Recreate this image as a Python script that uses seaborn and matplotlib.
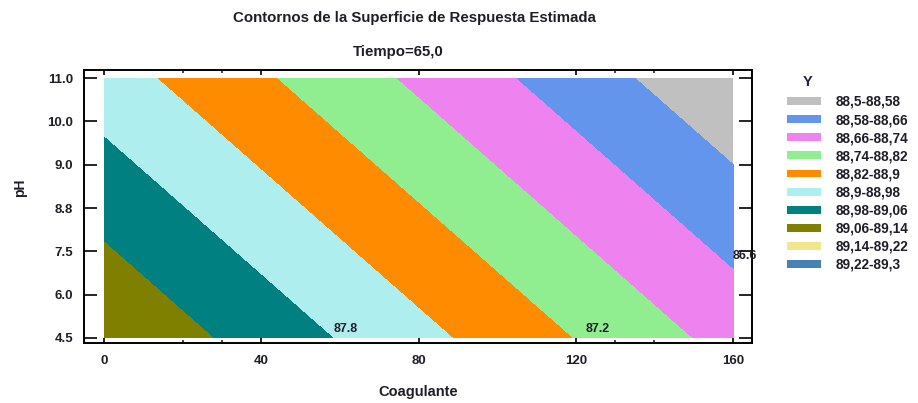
import matplotlib
matplotlib.use("Agg")
import matplotlib.pyplot as plt
from matplotlib.patches import Patch
import seaborn as sns

# ---- data ----
coagulante = [0, 160]            # x extent of the surface
ph = [4.5, 11.0]                 # y extent of the surface
# estimated response Y at the corners (rows: pH, cols: Coagulante) - a plane
y_surface = [[89.133, 88.712],
             [88.935, 88.514]]
levels = [88.5, 88.58, 88.66, 88.74, 88.82, 88.9, 88.98, 89.06, 89.14, 89.22, 89.3]
level_labels = ["88,5-88,58", "88,58-88,66", "88,66-88,74", "88,74-88,82", "88,82-88,9",
                "88,9-88,98", "88,98-89,06", "89,06-89,14", "89,14-89,22", "89,22-89,3"]
level_colors = ["#c0c0c0", "#6495ed", "#ee82ee", "#90ee90", "#ff8c00",
                "#afeeee", "#008080", "#808000", "#f0e68c", "#4682b4"]
x_ticks = [0, 40, 80, 120, 160]
x_minor = [20, 30, 130, 140]
y_ticks = [4.5, 5.583, 6.667, 7.75, 8.833, 9.917, 11.0]
y_tick_labels = ["4.5", "6.0", "7.5", "8.8", "9.0", "10.0", "11.0"]
contour_text = ["87.8", "87.2", "86.6"]
contour_text_x = [61.5, 125.5, 163.0]
contour_text_y = [4.72, 4.72, 6.55]

sns.set_style("white")
plt.rcParams["font.family"] = ["Liberation Sans", "DejaVu Sans"]
TXT = "#1e1e28"

W, H = 918, 403
fig = plt.figure(figsize=(W / 100, H / 100), dpi=100)
ax = fig.add_axes([84 / W, 1 - 343 / H, (752 - 84) / W, (343 - 70) / H])

palette = sns.color_palette(level_colors)
ax.contourf(coagulante, ph, y_surface, levels=levels, colors=palette, antialiased=False)

ax.set_xlim(-5.1, 164.8)
ax.set_ylim(4.375, 11.2)

ax.set_xticks(x_ticks)
ax.set_xticks(x_minor, minor=True)
ax.set_yticks(y_ticks)
ax.set_yticklabels(y_tick_labels)
for lab in ax.get_xticklabels() + ax.get_yticklabels():
    lab.set_fontweight("bold")
    lab.set_color(TXT)
ax.tick_params(axis="x", which="major", direction="in", length=3.5, width=1.2,
               top=True, bottom=True, labelsize=9.5, pad=9, colors="black", labelcolor=TXT)
ax.tick_params(axis="x", which="minor", direction="in", length=2.5, width=1.2,
               top=True, bottom=True)
ax.tick_params(axis="y", which="major", direction="in", length=9.5, width=1.2,
               left=True, right=True, labelsize=9.5, pad=8, colors="black", labelcolor=TXT)
for s in ax.spines.values():
    s.set_color("black")
    s.set_linewidth(1.4)

for t, tx, ty in zip(contour_text, contour_text_x, contour_text_y):
    ax.text(tx, ty, t, ha="center", va="center", fontsize=9, fontweight="bold",
            color=TXT, clip_on=False, zorder=5)

fig.text(414 / W, 1 - 18 / H, "Contornos de la Superficie de Respuesta Estimada",
         ha="center", va="center", fontsize=10.8, fontweight="bold", color=TXT)
fig.text(398 / W, 1 - 52 / H, "Tiempo=65,0", ha="center", va="center",
         fontsize=10.8, fontweight="bold", color=TXT)
fig.text(20 / W, 1 - 188 / H, "pH", ha="center", va="center", rotation=90,
         fontsize=10, fontweight="bold", color=TXT)
fig.text(418 / W, 1 - 392 / H, "Coagulante", ha="center", va="center",
         fontsize=10.5, fontweight="bold", color=TXT)

fig.text(808 / W, 1 - 82 / H, "Y", ha="center", va="center", fontsize=10.5,
         fontweight="bold", color="#2a1e3c")
handles = [Patch(facecolor=c, edgecolor="none") for c in palette]
leg = fig.legend(handles, level_labels, loc="upper left",
                 bbox_to_anchor=(787 / W, 1 - 95 / H), frameon=False,
                 borderpad=0, borderaxespad=0, fontsize=9.8,
                 handlelength=2.5, handleheight=0.52, handletextpad=1.05,
                 labelspacing=0.3)
for t in leg.get_texts():
    t.set_fontweight("bold")
    t.set_color(TXT)

fig.savefig("out.png", dpi=100)
